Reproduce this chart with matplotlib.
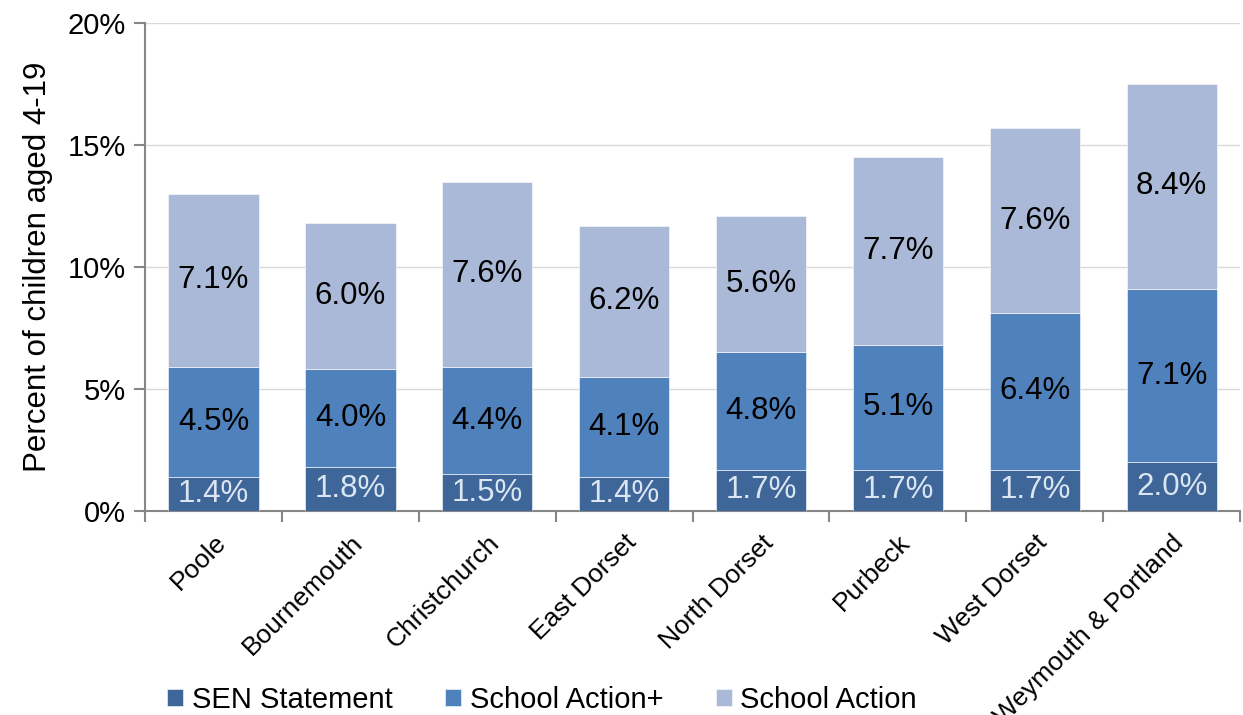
import numpy as np
import matplotlib
matplotlib.use("Agg")
import matplotlib.pyplot as plt
from matplotlib.ticker import FuncFormatter, FixedLocator

plt.rcParams['font.family'] = ['Liberation Sans', 'DejaVu Sans']

areas = ['Poole', 'Bournemouth', 'Christchurch', 'East Dorset', 'North Dorset',
         'Purbeck', 'West Dorset', 'Weymouth & Portland']
sen_statement = [1.4, 1.8, 1.5, 1.4, 1.7, 1.7, 1.7, 2.0]
school_action_plus = [4.5, 4.0, 4.4, 4.1, 4.8, 5.1, 6.4, 7.1]
school_action = [7.1, 6.0, 7.6, 6.2, 5.6, 7.7, 7.6, 8.4]

series = [
    ('SEN Statement', sen_statement, '#3E6699', '#DCE6F2'),
    ('School Action+', school_action_plus, '#4F81BD', 'black'),
    ('School Action', school_action, '#AAB9D7', 'black'),
]

fig = plt.figure(figsize=(12.43, 7.15), dpi=100)
ax = fig.add_axes([0.1167, 0.2853, 0.881, 0.6825])

x = np.arange(len(areas))
bottom = np.zeros(len(areas))
handles = []
for name, vals, color, txt_color in series:
    vals = np.array(vals)
    bars = ax.bar(x, vals, width=0.66, bottom=bottom, color=color,
                  edgecolor='white', linewidth=0.4, label=name, zorder=3)
    handles.append(bars)
    for xi, b, v in zip(x, bottom, vals):
        ax.text(xi, b + v / 2, f"{v:.1f}%", ha='center', va='center',
                fontsize=22.5, color=txt_color, zorder=4)
    bottom += vals

ax.set_xlim(-0.5, len(areas) - 0.5)
ax.set_ylim(0, 20)
ax.set_yticks([0, 5, 10, 15, 20])
ax.yaxis.set_major_formatter(FuncFormatter(lambda v, p: f"{v:.0f}%"))
ax.yaxis.grid(True, color='#D9D9D9', linewidth=1, zorder=0)
ax.set_axisbelow(True)

ax.set_xticks(x)
ax.set_xticklabels(areas, rotation=45, ha='right', rotation_mode='anchor', fontsize=19)
ax.xaxis.set_minor_locator(FixedLocator(np.arange(-0.5, len(areas), 1)))
ax.tick_params(axis='x', which='major', length=0, pad=14)
ax.tick_params(axis='x', which='minor', length=8, color='#868686', width=1.5)
ax.tick_params(axis='y', length=8, color='#868686', width=1.5, labelsize=21, pad=6)

for side in ['top', 'right']:
    ax.spines[side].set_visible(False)
for side in ['left', 'bottom']:
    ax.spines[side].set_color('#868686')
    ax.spines[side].set_linewidth(1.5)

ax.set_ylabel('Percent of children aged 4-19', fontsize=22.5, labelpad=10)

fig.legend(handles=handles, loc='lower left', bbox_to_anchor=(0.113, -0.035),
           ncol=3, frameon=False, fontsize=21, handlelength=0.55,
           handleheight=0.55, handletextpad=0.3, columnspacing=1.8)

fig.savefig('out.png', dpi=100)
